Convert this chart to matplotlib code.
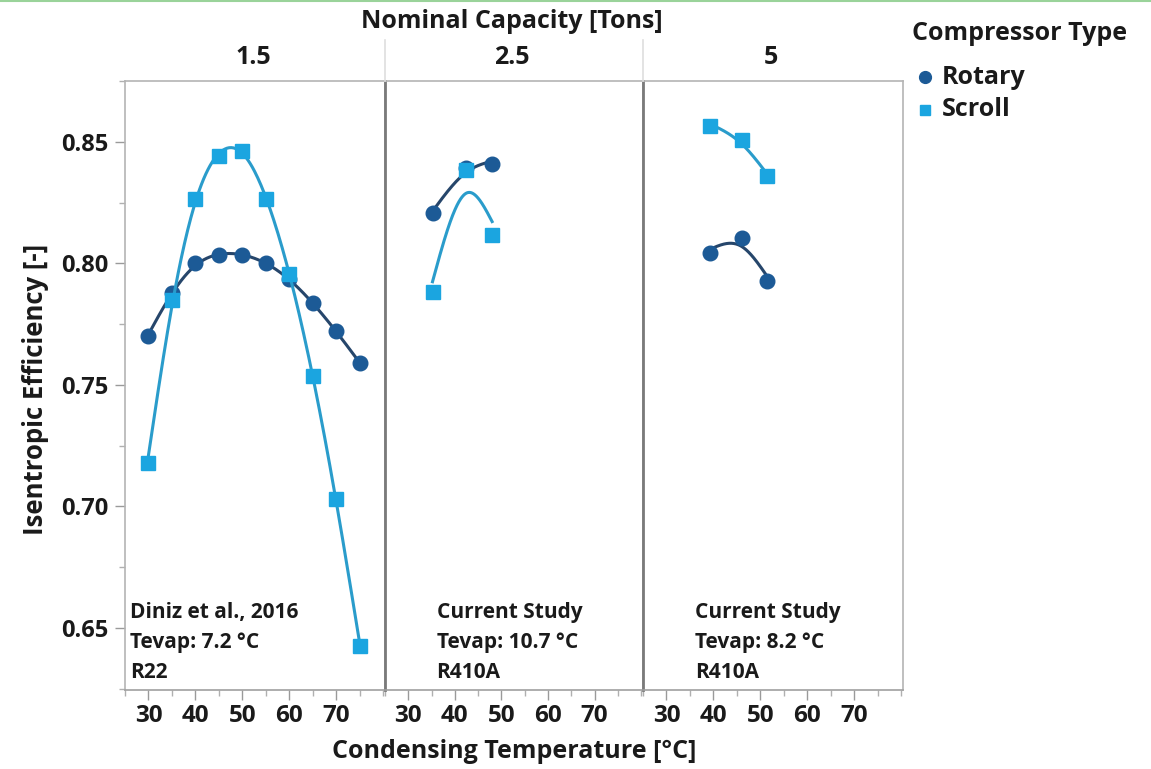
import numpy as np
import matplotlib
matplotlib.use("Agg")
import matplotlib.pyplot as plt
from matplotlib.lines import Line2D

# ---------------- data ----------------
capacities = ["1.5", "2.5", "5"]

temp_15 = [30, 35, 40, 45, 50, 55, 60, 65, 70, 75]
rotary_15 = [0.770, 0.788, 0.800, 0.8033, 0.8033, 0.800, 0.7935, 0.7835, 0.772, 0.759]
scroll_15 = [0.718, 0.785, 0.8265, 0.8442, 0.8464, 0.8265, 0.7955, 0.7537, 0.7029, 0.6427]

temp_25 = [35.2, 42.5, 48.0]
rotary_25 = [0.8206, 0.8394, 0.8410]
scroll_25 = [0.7883, 0.8385, 0.8117]

temp_5 = [39.3, 46.0, 51.4]
rotary_5 = [0.8042, 0.8106, 0.7928]
scroll_5 = [0.8566, 0.8508, 0.8360]

notes = [["Diniz et al., 2016", "Tevap: 7.2 °C", "R22"],
         ["Current Study", "Tevap: 10.7 °C", "R410A"],
         ["Current Study", "Tevap: 8.2 °C", "R410A"]]

legend_labels = ["Rotary", "Scroll"]

x_ticks = [30, 40, 50, 60, 70]
x_minor = [25, 35, 45, 55, 65, 75, 80]
y_ticks = [0.65, 0.70, 0.75, 0.80, 0.85]
y_minor = [0.625, 0.675, 0.725, 0.775, 0.825, 0.875]

panels = [(temp_15, rotary_15, scroll_15),
          (temp_25, rotary_25, scroll_25),
          (temp_5, rotary_5, scroll_5)]

ROT_MK = "#1c5a96"
ROT_LN = "#26466b"
SCR_MK = "#1ba5e0"
SCR_LN = "#2a9ccb"
TXT = "#1a1a1a"
SMOOTH_LAMBDA = 18.0

FONT = ["Open Sans", "DejaVu Sans"]
plt.rcParams["font.family"] = FONT
plt.rcParams["font.weight"] = "bold"


def smoothing_spline(x, y, lam, npts=200):
    """Natural cubic smoothing spline (Reinsch) fitted to the data."""
    x = np.asarray(x, float)
    y = np.asarray(y, float)
    n = len(x)
    h = np.diff(x)
    Q = np.zeros((n, n - 2))
    R = np.zeros((n - 2, n - 2))
    for j in range(1, n - 1):
        Q[j - 1, j - 1] = 1.0 / h[j - 1]
        Q[j, j - 1] = -1.0 / h[j - 1] - 1.0 / h[j]
        Q[j + 1, j - 1] = 1.0 / h[j]
        R[j - 1, j - 1] = (h[j - 1] + h[j]) / 3.0
        if j < n - 2:
            R[j - 1, j] = h[j] / 6.0
            R[j, j - 1] = h[j] / 6.0
    gam_in = np.linalg.solve(R + lam * Q.T @ Q, Q.T @ y)
    g = y - lam * Q @ gam_in
    gam = np.concatenate([[0.0], gam_in, [0.0]])
    xs = np.linspace(x[0], x[-1], npts)
    ys = np.empty_like(xs)
    for k, xv in enumerate(xs):
        i = min(np.searchsorted(x, xv, side="right") - 1, n - 2)
        i = max(i, 0)
        a = xv - x[i]
        b = x[i + 1] - xv
        hi = h[i]
        ys[k] = (a * g[i + 1] + b * g[i]) / hi - a * b / 6.0 * (
            (1 + a / hi) * gam[i + 1] + (1 + b / hi) * gam[i])
    return xs, ys


W, H = 1151, 769
fig = plt.figure(figsize=(W / 100, H / 100), dpi=100)

top_px, bot_px = 81, 690
edges = [125, 385, 643, 903]
axes = []
for i in range(3):
    l = edges[i] / W
    w = (edges[i + 1] - edges[i]) / W
    ax = fig.add_axes([l, 1 - bot_px / H, w, (bot_px - top_px) / H])
    axes.append(ax)

for i, ax in enumerate(axes):
    t, r, s = panels[i]
    xs, ys = smoothing_spline(t, r, SMOOTH_LAMBDA)
    ax.plot(xs, ys, color=ROT_LN, lw=2.2, zorder=2)
    ax.plot(t, r, "o", color=ROT_MK, ms=10.5, mec=ROT_MK, zorder=3)
    xs, ys = smoothing_spline(t, s, SMOOTH_LAMBDA)
    ax.plot(xs, ys, color=SCR_LN, lw=2.2, zorder=4)
    ax.plot(t, s, "s", color=SCR_MK, ms=9.5, mec=SCR_MK, zorder=5)

    ax.set_xlim(25, 80.4)
    ax.set_ylim(0.6245, 0.875)
    ax.set_xticks(x_ticks)
    ax.set_xticks(x_minor, minor=True)
    ax.set_xticklabels([str(v) for v in x_ticks], fontsize=17.5, fontweight="bold",
                       color=TXT)
    ax.tick_params(axis="x", which="major", length=7, width=1, color="#9a9a9a", pad=3)
    ax.tick_params(axis="x", which="minor", length=4.5, width=1, color="#b0b0b0")
    if i == 0:
        ax.set_yticks(y_ticks)
        ax.set_yticks(y_minor, minor=True)
        ax.set_yticklabels([f"{v:.2f}" for v in y_ticks], fontsize=17,
                           fontweight="bold", color=TXT)
        ax.tick_params(axis="y", which="major", length=7, width=1, color="#9a9a9a", pad=5)
        ax.tick_params(axis="y", which="minor", length=4.5, width=1, color="#b0b0b0")
    else:
        ax.set_yticks([])
        ax.tick_params(axis="y", which="both", length=0)
    for sp in ax.spines.values():
        sp.set_color("#b4b4b4")
        sp.set_linewidth(1.2)
    if i > 0:
        ax.spines["left"].set_color("#7a7a7a")
        ax.spines["left"].set_linewidth(2.0)
    ax.spines["bottom"].set_color("#a0a0a0")

    xs0 = 0.02 if i == 0 else 0.20
    for k, line in enumerate(notes[i]):
        ax.text(xs0, 0.128 - k * 0.05, line, transform=ax.transAxes,
                fontsize=15, fontweight="bold", color=TXT,
                va="center", ha="left")

    # facet header
    cx = (edges[i] + edges[i + 1]) / 2 / W
    fig.text(cx - 2 / W, 1 - 58 / H, capacities[i], ha="center", va="center",
             fontsize=18, fontweight="bold", color=TXT)

# header separators
for xp in edges[1:3]:
    fig.add_artist(Line2D([xp / W, xp / W], [1 - 40 / H, 1 - 81 / H],
                          color="#dedede", lw=1.2))

fig.text(512 / W, 1 - 21 / H, "Nominal Capacity [Tons]", ha="center", va="center",
         fontsize=18, fontweight="bold", color=TXT)
fig.text(514 / W, 1 - 752 / H, "Condensing Temperature [°C]", ha="center", va="center",
         fontsize=18, fontweight="bold", color=TXT)
fig.text(36 / W, 1 - 389 / H, "Isentropic Efficiency [-]", ha="center", va="center",
         rotation=90, fontsize=18.5, fontweight="bold", color=TXT)

# legend (placed by hand to match the reference layout)
fig.text(912 / W, 1 - 33 / H, "Compressor Type", ha="left", va="center",
         fontsize=18, fontweight="bold", color=TXT)
leg_markers = [("o", ROT_MK, 8.5), ("s", SCR_MK, 7.5)]
for k, (lab, (mk, col, ms)) in enumerate(zip(legend_labels, leg_markers)):
    yy = 1 - (77 + 33 * k) / H
    fig.add_artist(Line2D([925 / W], [yy], ls="none", marker=mk, color=col, ms=ms))
    fig.text(942 / W, yy, lab, ha="left", va="center", fontsize=18,
             fontweight="bold", color=TXT)

# screenshot top rule
fig.add_artist(Line2D([0, 1], [1 - 1 / H, 1 - 1 / H], color="#9ad39a", lw=1.5))

fig.savefig("out.png", dpi=100, facecolor="white")
